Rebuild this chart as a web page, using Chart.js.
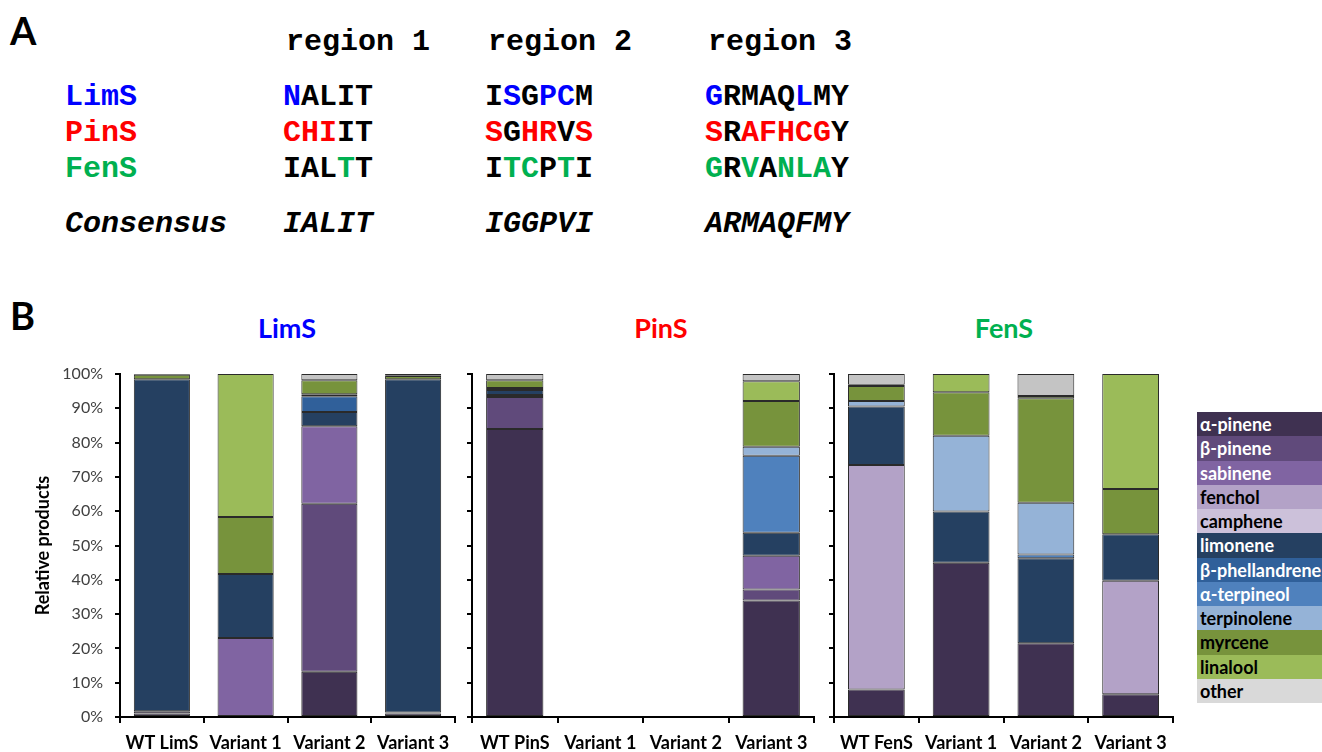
<!DOCTYPE html>
<html>
<head>
<meta charset="utf-8">
<script src="https://cdn.jsdelivr.net/npm/chart.js@4.4.1/dist/chart.umd.min.js"></script>
<style>
  body { margin: 0; width: 1322px; height: 752px; overflow: hidden; position: relative; background: #fff; font-family: Lato, sans-serif; }
  .abs { position: absolute; white-space: pre; }
  .mono { font-family: "Liberation Mono", "Courier New", monospace; font-weight: bold; font-size: 30px; line-height: 30px; color: #000; }
  .it { font-style: italic; }
  .big { font-weight: bold; font-size: 38px; line-height: 38px; }
  .ptitle { font-weight: bold; font-size: 27px; line-height: 27px; transform: translateX(-50%); }
  canvas { position: absolute; top: 360px; }
  #legend { position: absolute; left: 1197px; top: 412px; width: 125px; }
  #legend div { height: 24.25px; line-height: 24.25px; font-weight: bold; font-size: 18px; padding-left: 3px; white-space: nowrap; overflow: hidden; }
</style>
</head>
<body>

<div class="abs big" style="left:10px; top:11px;">A</div>
<div id="partA"></div>

<div class="abs big" style="left:10px; top:296px;">B</div>
<div class="abs ptitle" style="left:287px; top:314px; color:#0000ff;">LimS</div>
<div class="abs ptitle" style="left:661px; top:314px; color:#ff0000;">PinS</div>
<div class="abs ptitle" style="left:1004px; top:314px; color:#00b050;">FenS</div>

<canvas id="limsChart" width="465" height="392" style="left:0px;"></canvas>
<canvas id="pinsChart" width="364" height="392" style="left:460px;"></canvas>
<canvas id="fensChart" width="361" height="392" style="left:822px;"></canvas>
<div id="legend"></div>

<script>
// ---- part A: aligned regions ----
// an "x" in a mask marks a residue drawn in the enzyme colour
const regionNames = ["region 1", "region 2", "region 3"];
const enzymeNames = ["LimS", "PinS", "FenS"];
const enzymeColors = ["#0000ff", "#ff0000", "#00b050"];
const limsSeq = ["NALIT", "ISGPCM", "GRMAQLMY"];
const limsMask = ["x....", ".x.xx", "x....x.."];
const pinsSeq = ["CHIIT", "SGHRVS", "SRAFHCGY"];
const pinsMask = ["xxx..", "x.xx.x", "x.xxxxx."];
const fensSeq = ["IALTT", "ITCPTI", "GRVANLAY"];
const fensMask = ["...x.", ".xx.x.", "x.x.xxx."];
const consensusSeq = ["IALIT", "IGGPVI", "ARMAQFMY"];

// ---- part B: product profiles (% of total, bottom to top) ----
const compounds = ["α-pinene", "β-pinene", "sabinene", "fenchol", "camphene", "limonene",
  "β-phellandrene", "α-terpineol", "terpinolene", "myrcene", "linalool", "other"];
const compoundColors = ["#3f3151", "#604a7b", "#8064a2", "#b3a2c7", "#ccc1da", "#254061",
  "#30609a", "#4f81bd", "#95b3d7", "#77933c", "#9bbb59", "#c4c4c4"];
const darkText = [true, true, true, false, false, true, true, true, false, false, false, false];

const limsLabels = ["WT LimS", "Variant 1", "Variant 2", "Variant 3"];
const pinsLabels = ["WT PinS", "Variant 1", "Variant 2", "Variant 3"];
const fensLabels = ["WT FenS", "Variant 1", "Variant 2", "Variant 3"];
const yTicks = [0, 10, 20, 30, 40, 50, 60, 70, 80, 90, 100];

// one row per compound, one column per enzyme variant
const limsValues = [
  [1.0, 0, 13.2, 1.0],
  [0.7, 0, 49.0, 0.3],
  [0, 23.0, 22.6, 0],
  [0, 0, 0, 0],
  [0, 0, 0, 0],
  [96.8, 18.7, 4.1, 97.2],
  [0, 0, 4.6, 0],
  [0, 0, 0, 0],
  [0, 0, 0.6, 0],
  [1.3, 16.6, 4.1, 0.9],
  [0, 41.7, 0, 0.2],
  [0.2, 0, 1.8, 0.4]
];
const pinsValues = [
  [84.0, null, null, 34.0],
  [9.3, null, null, 3.2],
  [0.6, null, null, 9.8],
  [0, null, null, 0],
  [0, null, null, 0],
  [1.4, null, null, 6.7],
  [0, null, null, 0],
  [0.6, null, null, 22.5],
  [0, null, null, 2.6],
  [2.3, null, null, 13.3],
  [0, null, null, 5.8],
  [1.8, null, null, 2.1]
];
const fensValues = [
  [8.0, 45.0, 21.5, 6.6],
  [0, 0, 0, 0],
  [0, 0, 0, 0],
  [65.5, 0, 0, 33.1],
  [0, 0, 0, 0],
  [17.0, 14.9, 24.8, 13.6],
  [0, 0, 0, 0],
  [0, 0, 1.1, 0],
  [1.6, 22.1, 15.1, 0],
  [4.4, 12.7, 30.4, 13.2],
  [0.4, 5.3, 0.7, 33.5],
  [3.1, 0, 6.4, 0]
];

// ---- draw part A as text ----
const partA = document.getElementById("partA");
const colX = [283, 485, 705];

function addText(html, left, top, cls) {
  const d = document.createElement("div");
  d.className = "abs mono " + (cls || "");
  d.style.left = left + "px";
  d.style.top = top + "px";
  d.innerHTML = html;
  partA.appendChild(d);
}

function colourSeq(seq, mask, color) {
  let out = "";
  for (let i = 0; i < seq.length; i++) {
    out += mask[i] === "x" ? '<span style="color:' + color + '">' + seq[i] + "</span>" : seq[i];
  }
  return out;
}

regionNames.forEach((r, i) => addText(r, colX[i] + 3, 27));

const rows = [[limsSeq, limsMask], [pinsSeq, pinsMask], [fensSeq, fensMask]];
const rowTop = [82, 118, 154];
rows.forEach((row, r) => {
  addText('<span style="color:' + enzymeColors[r] + '">' + enzymeNames[r] + "</span>", 65, rowTop[r]);
  row[0].forEach((seq, i) => addText(colourSeq(seq, row[1][i], enzymeColors[r]), colX[i], rowTop[r]));
});
addText("Consensus", 65, 209, "it");
consensusSeq.forEach((seq, i) => addText(seq, colX[i], 209, "it"));

// ---- legend ----
const legend = document.getElementById("legend");
compounds.forEach((name, i) => {
  const d = document.createElement("div");
  d.textContent = name;
  d.style.background = i === 11 ? "#d9d9d9" : compoundColors[i];
  d.style.color = darkText[i] ? "#fff" : "#000";
  legend.appendChild(d);
});

// ---- charts ----
function makePanel(id, labels, values, showY, yWidth) {
  const datasets = compounds.map((name, i) => ({
    label: name,
    data: values[i].map(v => (v === 0 ? null : v)),
    backgroundColor: compoundColors[i],
    borderColor: "#2a2a2a",
    borderWidth: 1,
    borderSkipped: false,
    barPercentage: 0.67,
    categoryPercentage: 1.0
  }));

  return new Chart(document.getElementById(id), {
    type: "bar",
    data: { labels: labels, datasets: datasets },
    options: {
      responsive: false,
      animation: false,
      layout: { padding: { top: 14, right: 10, left: 0, bottom: 0 } },
      plugins: { legend: { display: false }, tooltip: { enabled: false } },
      scales: {
        x: {
          stacked: true,
          border: { color: "#000", width: 2 },
          grid: { display: true, drawOnChartArea: false, drawTicks: true, tickLength: 6, color: "#000", lineWidth: 2 },
          ticks: { color: "#000", font: { family: "Lato", size: 18, weight: "bold" }, padding: 9, maxRotation: 0 },
          afterFit: s => { s.height = 35; s.paddingLeft = 0; s.paddingRight = 0; }
        },
        y: {
          stacked: true,
          min: 0,
          max: 100,
          afterBuildTicks: s => { s.ticks = yTicks.map(v => ({ value: v })); },
          border: { color: "#000", width: 2 },
          grid: { display: true, drawOnChartArea: false, drawTicks: true, tickLength: 5, color: "#000", lineWidth: 2 },
          ticks: {
            display: showY,
            color: "#404040",
            font: { family: "Lato", size: 16 },
            padding: 12,
            callback: v => v + "%"
          },
          title: {
            display: showY,
            text: "Relative products",
            color: "#000",
            font: { family: "Lato", size: 18, weight: "bold" },
            padding: { top: 32, bottom: 0 }
          },
          afterFit: s => { s.width = yWidth; s.paddingTop = 0; s.paddingBottom = 0; }
        }
      }
    }
  });
}

makePanel("limsChart", limsLabels, limsValues, true, 120);
makePanel("pinsChart", pinsLabels, pinsValues, false, 12);
makePanel("fensChart", fensLabels, fensValues, false, 12);
</script>
</body>
</html>
